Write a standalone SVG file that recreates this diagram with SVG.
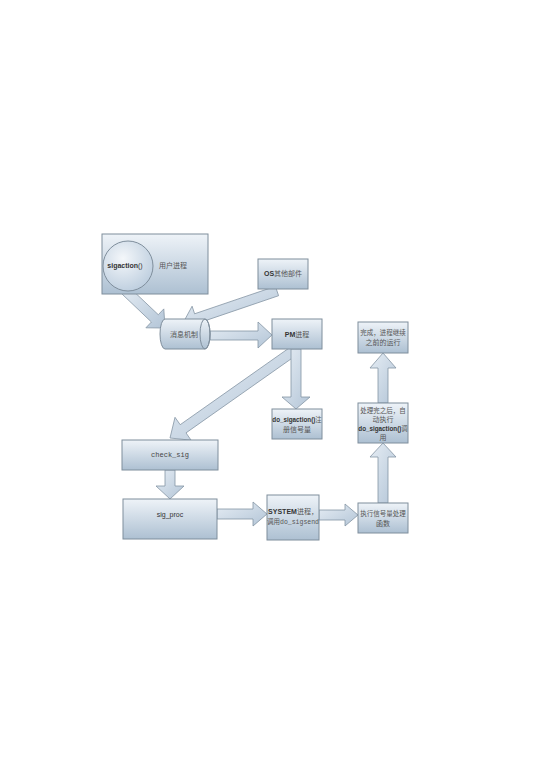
<svg xmlns="http://www.w3.org/2000/svg" width="543" height="768" viewBox="0 0 543 768">
<defs>
<linearGradient id="g" x1="0" y1="0" x2="0" y2="1">
<stop offset="0" stop-color="#eef3f8"/>
<stop offset="1" stop-color="#adc0d2"/>
</linearGradient>
<linearGradient id="ga" x1="0" y1="0" x2="1" y2="1">
<stop offset="0" stop-color="#e6edf4"/>
<stop offset="1" stop-color="#b3c5d7"/>
</linearGradient>
<radialGradient id="gc" cx="0.4" cy="0.35" r="0.7">
<stop offset="0" stop-color="#f4f7fa"/>
<stop offset="1" stop-color="#bccdde"/>
</radialGradient>
</defs>
<style>
.box{fill:url(#g);stroke:#7f8e9c;stroke-width:1}
.arr{fill:url(#ga);stroke:#8494a3;stroke-width:0.8}
.cn{font-family:"Noto Sans CJK SC","Liberation Serif",serif;font-size:7px;fill:#555;text-anchor:middle}
.en{font-family:"Liberation Sans",Arial,sans-serif;font-size:7px;fill:#333;font-weight:bold;text-anchor:middle}
.mono{font-family:"Liberation Mono",monospace;font-size:7px;fill:#444;text-anchor:middle}
.b{font-family:"Liberation Sans",Arial,sans-serif;font-weight:bold;fill:#333}
</style>
<rect width="543" height="768" fill="#ffffff"/>
<g id="connectors">
<polygon class="arr" points="121.6,293.6 151.4,322 145.9,327.8 165,328 163.8,308.9 158.3,314.7 128.4,286.4"/>
<polygon class="arr" points="275.4,286.3 194.6,313.8 192.1,306.2 183,323 200.5,330.8 197.9,323.2 278.6,295.7"/>
<polygon class="arr" points="210,331 258,331 258,322 272,335 258,348 258,340 210,340"/>
<polygon class="arr" points="292.1,345.9 180.2,424.7 175,417.3 170,438 191.1,440.2 186,432.9 297.9,354.1"/>
<polygon class="arr" points="291,349 301,349 301,397 310,397 296,409 282,397 291,397"/>
<polygon class="arr" points="165,470 175,470 175,486 184,486 170,499 156,486 165,486"/>
<polygon class="arr" points="217,509 253,509 253,502 267,514 253,526 253,519 217,519"/>
<polygon class="arr" points="319,510 345,510 345,504 358,515 345,526 345,520 319,520"/>
<polygon class="arr" points="378,503 378,457 370,457 383,443 396,457 388,457 388,503"/>
<polygon class="arr" points="378,403 378,368 370,368 383,353 396,368 388,368 388,403"/>
</g>
<g id="user-process">
<rect class="box" x="102" y="234" width="106" height="60"/>
<text class="cn" x="173" y="268">用户进程</text>
</g>
<g id="sigaction">
<circle cx="128" cy="266" r="25" fill="url(#gc)" stroke="#7f8e9c" stroke-width="1"/>
<text class="en" x="125" y="268">sigaction<tspan font-weight="normal">()</tspan></text>
</g>
<g id="os">
<rect class="box" x="258" y="259" width="50" height="30"/>
<text x="283" y="276" class="cn"><tspan class="b">OS</tspan>其他部件</text>
</g>
<g id="msg">
<path class="box" d="M165,319 L205,319 A5,15 0 0 1 205,349 L165,349 A5,15 0 0 1 165,319 Z"/>
<ellipse cx="205" cy="334" rx="5" ry="15" fill="none" stroke="#7f8e9c" stroke-width="1"/>
<text class="cn" x="184" y="337">消息机制</text>
</g>
<g id="pm">
<rect class="box" x="272" y="319" width="50" height="30"/>
<text x="297" y="337" class="cn"><tspan class="b">PM</tspan>进程</text>
</g>
<g id="do-sigaction">
<rect class="box" x="272" y="409" width="50" height="30"/>
<text x="297" y="422" class="cn" style="font-size:6.3px"><tspan class="b">do_sigaction()</tspan>注</text>
<text x="297" y="432" class="cn">册信号量</text>
</g>
<g id="check-sig">
<rect class="box" x="122" y="440" width="96" height="30"/>
<text class="mono" x="170" y="457">check_sig</text>
</g>
<g id="sig-proc">
<rect class="box" x="123" y="499" width="94" height="40"/>
<text class="en" x="170" y="517" style="font-weight:normal">sig_proc</text>
</g>
<g id="system">
<rect class="box" x="267" y="495" width="52" height="45"/>
<text x="293" y="514" class="cn"><tspan class="b">SYSTEM</tspan>进程，</text>
<text x="293" y="524" class="cn" style="font-size:6.5px">调用<tspan style="font-family:'Liberation Mono',monospace">do_sigsend</tspan></text>
</g>
<g id="exec">
<rect class="box" x="358" y="503" width="50" height="30"/>
<text class="cn" x="383" y="516" style="font-size:6.5px">执行信号量处理</text>
<text class="cn" x="383" y="526">函数</text>
</g>
<g id="after">
<rect class="box" x="358" y="403" width="50" height="40"/>
<text class="cn" x="383" y="413" style="font-size:6.5px">处理完之后，自</text>
<text class="cn" x="383" y="422">动执行</text>
<text class="cn" x="383" y="431" style="font-size:6.3px"><tspan class="b">do_sigaction()</tspan>调</text>
<text class="cn" x="383" y="440">用</text>
</g>
<g id="done">
<rect class="box" x="358" y="322" width="50" height="31"/>
<text class="cn" x="383" y="335" style="font-size:6.5px">完成，进程继续</text>
<text class="cn" x="383" y="345">之前的运行</text>
</g>
</svg>
